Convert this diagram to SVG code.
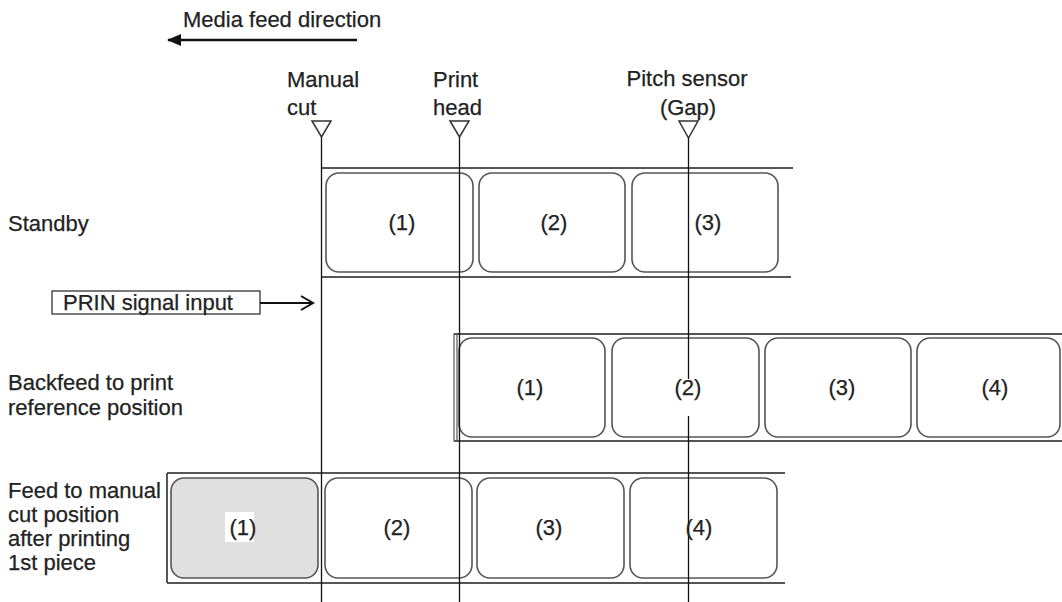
<svg xmlns="http://www.w3.org/2000/svg" width="1062" height="602" viewBox="0 0 1062 602">
<style>
text{font-family:"Liberation Sans",Arial,sans-serif;font-size:22px;fill:#222;stroke:#222;stroke-width:0.25}
.lbl{text-anchor:middle}
.rr{fill:#fff;stroke:#555;stroke-width:1.6}
.edge{stroke:#555;stroke-width:2;fill:none}
.ln{stroke:#111;stroke-width:1.3;fill:none}
.tri{fill:#fff;stroke:#333;stroke-width:1.5}
</style>
<defs>
<marker id="ah" markerWidth="14" markerHeight="12" refX="13" refY="6" orient="auto" markerUnits="userSpaceOnUse"><path d="M0,0 L14,6 L0,12 Z" fill="#111"/></marker>
</defs>
<rect width="1062" height="602" fill="#fff"/>

<g id="title">
<text x="183" y="27">Media feed direction</text>
</g>

<g id="row-standby">
<text x="8" y="231">Standby</text>
<line class="edge" x1="321" y1="168" x2="793" y2="168"/>
<line class="edge" x1="321" y1="277" x2="791" y2="277"/>
<rect class="rr" x="326" y="173" width="147" height="99" rx="13"/>
<rect class="rr" x="479" y="173" width="146" height="99" rx="13"/>
<rect class="rr" x="632" y="173" width="146" height="99" rx="13"/>
</g>

<g id="row-backfeed">
<text x="8" y="390">Backfeed to print</text>
<text x="8" y="415">reference position</text>
<line class="edge" x1="454" y1="334" x2="1062" y2="334"/>
<line class="edge" x1="454" y1="441" x2="1062" y2="441"/>
<rect x="454" y="334" width="3" height="107" fill="none" stroke="#555" stroke-width="1.2"/>
<rect class="rr" x="459" y="338" width="146" height="99" rx="13"/>
<rect class="rr" x="612" y="338" width="147" height="99" rx="13"/>
<rect class="rr" x="765" y="338" width="146" height="99" rx="13"/>
<rect class="rr" x="917" y="338" width="143" height="99" rx="13"/>
</g>

<g id="row-feed">
<text x="8" y="498">Feed to manual</text>
<text x="8" y="522">cut position</text>
<text x="8" y="546">after printing</text>
<text x="8" y="570">1st piece</text>
<line class="edge" x1="167" y1="473" x2="785" y2="473"/>
<line class="edge" x1="167" y1="583" x2="785" y2="583"/>
<line class="edge" x1="167" y1="473" x2="167" y2="583" stroke-width="1.5"/>
<rect class="rr" x="171" y="478" width="147" height="100" rx="13" style="fill:#e0e0e0"/>
<rect class="rr" x="325" y="478" width="147" height="100" rx="13"/>
<rect class="rr" x="477" y="478" width="147" height="100" rx="13"/>
<rect class="rr" x="630" y="478" width="147" height="100" rx="13"/>
</g>

<g id="prin-signal">
<rect x="52" y="291" width="208" height="23" fill="#fff" stroke="#333" stroke-width="1.3"/>
<text x="63" y="310">PRIN signal input</text>
</g>

<g id="marker-manual-cut">
<text x="287" y="87">Manual</text>
<text x="287" y="115">cut</text>
<polygon class="tri" points="312,121 331,121 321.5,137"/>
</g>
<g id="marker-print-head">
<text x="433" y="87">Print</text>
<text x="433" y="115">head</text>
<polygon class="tri" points="450,121 469,121 459.5,137"/>
</g>
<g id="marker-pitch-sensor">
<text class="lbl" x="687" y="86">Pitch sensor</text>
<text class="lbl" x="688" y="115">(Gap)</text>
<polygon class="tri" points="679,121 698,121 688.5,138"/>
</g>

<g id="connectors">
<line class="ln" x1="321.5" y1="137" x2="321.5" y2="602"/>
<line class="ln" x1="459.5" y1="137" x2="459.5" y2="602"/>
<line class="ln" x1="688.5" y1="138" x2="688.5" y2="602"/>
<line x1="357" y1="40" x2="168" y2="40" stroke="#111" stroke-width="2.5" marker-end="url(#ah)"/>
<line x1="260" y1="303" x2="312" y2="303" stroke="#111" stroke-width="2"/>
<polyline points="301,296 313,303 301,310" fill="none" stroke="#111" stroke-width="2"/>
</g>

<g id="labels">
<text class="lbl" x="402" y="230">(1)</text>
<text class="lbl" x="554" y="230">(2)</text>
<text class="lbl" x="708" y="230">(3)</text>
<text class="lbl" x="530" y="395">(1)</text>
<rect x="674" y="379" width="29" height="37" fill="#fff"/>
<text class="lbl" x="688" y="395">(2)</text>
<text class="lbl" x="842" y="395">(3)</text>
<text class="lbl" x="995" y="395">(4)</text>
<rect x="225" y="512" width="29" height="30" fill="#fff"/>
<text class="lbl" x="243" y="535">(1)</text>
<text class="lbl" x="397" y="535">(2)</text>
<text class="lbl" x="549" y="535">(3)</text>
<text class="lbl" x="699" y="535">(4)</text>
</g>
</svg>
